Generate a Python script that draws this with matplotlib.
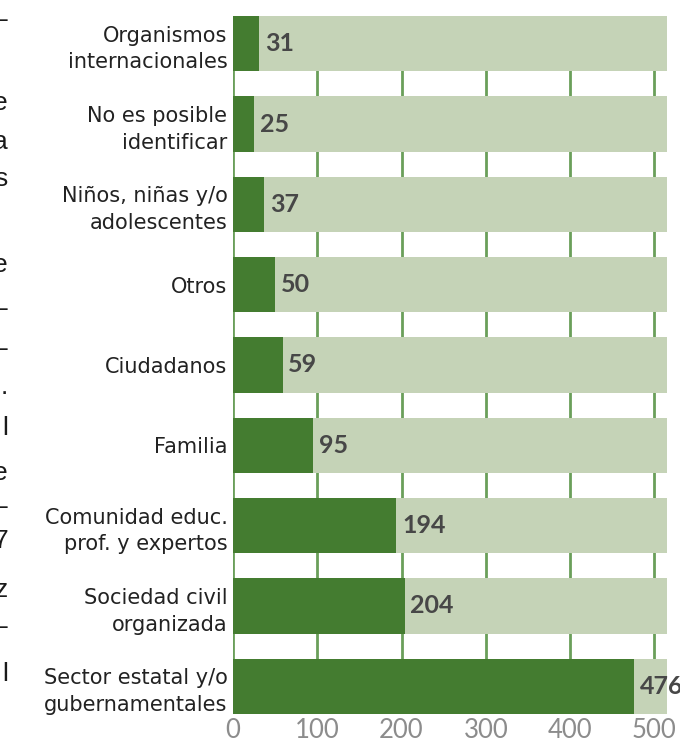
import matplotlib
matplotlib.use('Agg')
import matplotlib.pyplot as plt

categories = ['Organismos\ninternacionales', 'No es posible\nidentificar',
              'Niños, niñas y/o\nadolescentes', 'Otros', 'Ciudadanos', 'Familia',
              'Comunidad educ.\nprof. y expertos', 'Sociedad civil\norganizada',
              'Sector estatal y/o\ngubernamentales']
values = [31, 25, 37, 50, 59, 95, 194, 204, 476]
ticks = [0, 100, 200, 300, 400, 500]
x_max = 515

# cut-off line ends of the neighbouring text column (char, baseline px from top)
edge_chars = ['–', 'e', 'a', 's', 'e', '–', '–', '.', 'l', 'e', '–', '7', 'z', '–', 'l']
edge_rows = [27, 110, 149, 186, 272, 316, 356, 394, 435, 480, 514, 548, 597, 634, 681]

DARK = '#447c30'
LIGHT = '#c5d3b7'
GRID = '#6a9f5a'

plt.rcParams['font.family'] = ['Lato', 'DejaVu Sans']

fig = plt.figure(figsize=(6.8, 7.42), dpi=100)
ax = fig.add_axes([233 / 680, 28 / 742, 434 / 680, 698 / 742])

pos = list(range(len(categories)))
h = 0.69
ax.barh(pos, [x_max] * len(pos), height=h, color=LIGHT, zorder=2)
ax.barh(pos, values, height=h, color=DARK, zorder=3)

for p, v in zip(pos, values):
    ax.annotate(str(v), (v, p), xytext=(4, 0), textcoords='offset points',
                va='center', ha='left', fontsize=18, fontweight='bold',
                color='#474747', zorder=4, annotation_clip=False)

ax.set_xlim(0, x_max)
ax.set_ylim(len(pos) - 1 + h / 2, -h / 2)
ax.set_yticks(pos)
ax.set_yticklabels(categories, fontsize=15, color='#222222', ha='right',
                   linespacing=1.42, family='DejaVu Sans')
ax.set_xticks(ticks)
ax.set_xticklabels([str(t) for t in ticks], fontsize=18.5, color='#8c8c8c')
ax.tick_params(axis='both', length=0)
ax.tick_params(axis='y', pad=4)
ax.tick_params(axis='x', pad=3)

for t in ticks:
    ax.axvline(t, color=GRID, lw=2, zorder=1)

for s in ax.spines.values():
    s.set_visible(False)

for ch, row in zip(edge_chars, edge_rows):
    fig.text(8 / 680, 1 - row / 742, ch, ha='right', va='baseline',
             fontsize=19, color='#1a1a1a', family='Liberation Sans')

plt.savefig('out.png', dpi=100)
